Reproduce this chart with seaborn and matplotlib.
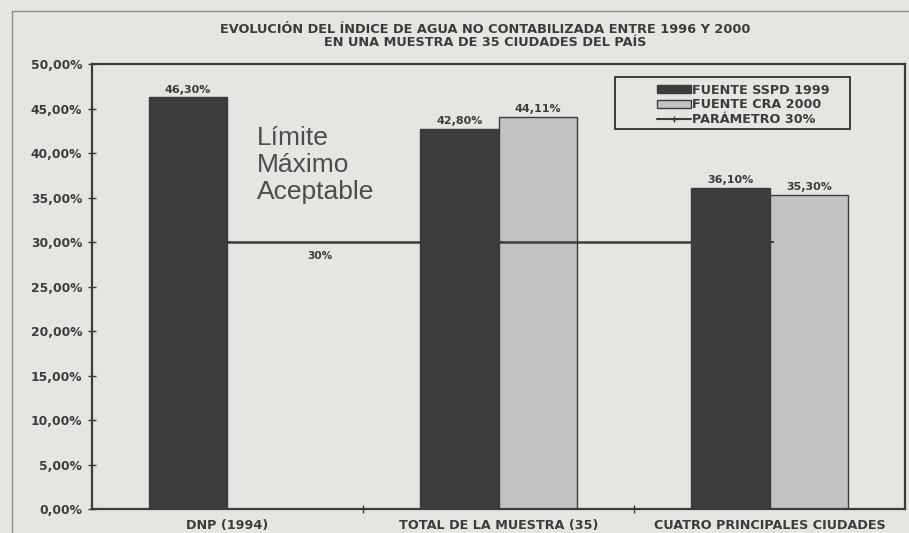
import matplotlib
matplotlib.use("Agg")
import matplotlib.pyplot as plt
from matplotlib.patches import Patch, Rectangle
from matplotlib.lines import Line2D
import seaborn as sns
import pandas as pd
import numpy as np

# Index of non-revenue water by source
categorias = ["DNP (1994)", "TOTAL DE LA MUESTRA (35)", "CUATRO PRINCIPALES CIUDADES"]
sspd_1999 = [46.30, 42.80, 36.10]
cra_2000 = [np.nan, 44.11, 35.30]
parametro = [30, 30, 30]
series = ["FUENTE SSPD 1999", "FUENTE CRA 2000"]
yticks = [0, 5, 10, 15, 20, 25, 30, 35, 40, 45, 50]

titulo = ("EVOLUCIÓN DEL ÍNDICE DE AGUA NO CONTABILIZADA ENTRE 1996 Y 2000\n"
          "EN UNA MUESTRA DE 35 CIUDADES DEL PAÍS")

df = pd.DataFrame({
    "categoria": categorias * 2,
    "valor": sspd_1999 + cra_2000,
    "fuente": [series[0]] * 3 + [series[1]] * 3,
})

sns.set_theme(style="white")
plt.rcParams["font.family"] = ["DejaVu Sans"]

paper = "#e5e5e2"
ink = "#3c3c3c"
dark = "#3d3d3d"
light = "#c2c2c0"
small = dict(fontweight="bold", color=ink)

fig = plt.figure(figsize=(9.09, 5.33), dpi=100, facecolor=paper)
ax = fig.add_axes([0.101, 0.045, 0.895, 0.834])
ax.set_facecolor(paper)

sns.barplot(data=df, x="categoria", y="valor", hue="fuente",
            palette=[dark, light], width=0.58, edgecolor=ink, linewidth=1.0,
            saturation=1, ax=ax, legend=False)

# 30% reference line across category centres
sns.pointplot(x=categorias, y=parametro, color=ink, markers="+",
              markersize=6, linewidth=1.8, ax=ax, zorder=5)

# value labels above each bar
for cont in ax.containers:
    labels = []
    for v in cont.datavalues:
        labels.append("" if np.isnan(v) else f"{v:.2f}%".replace(".", ","))
    ax.bar_label(cont, labels=labels, padding=2, fontsize=8, **small)

ax.text(0.34, 28.5, "30%", fontsize=7.6, ha="center", va="center", **small)
ax.text(0.11, 43.1, "Límite\nMáximo\nAceptable", fontsize=19,
        family="Liberation Sans", color="#4d4d4d",
        ha="left", va="top", linespacing=1.17)

ax.set_ylim(0, 50)
ax.set_xlim(-0.5, 2.5)
ax.set_yticks(yticks)
ax.set_yticklabels([f"{t:.2f}%".replace(".", ",") for t in yticks],
                   fontsize=8.8, **small)
ax.set_xticks(range(3))
ax.set_xticklabels(categorias, fontsize=9.2, **small)
ax.set_xticks([0.5, 1.5], minor=True)
ax.tick_params(axis="y", length=6, width=1, color=ink, pad=4, left=True,
               direction="inout")
ax.tick_params(axis="x", which="major", length=0, pad=7)
ax.tick_params(axis="x", which="minor", length=6, width=1, color=ink,
               bottom=True, direction="inout")
ax.set_xlabel("")
ax.set_ylabel("")
for s in ax.spines.values():
    s.set_visible(True)
    s.set_color(ink)
    s.set_linewidth(1.6)

# legend: entries without frame, boxed by a separate rectangle
handles = [
    Patch(facecolor=dark, edgecolor=ink, label="FUENTE SSPD 1999"),
    Patch(facecolor=light, edgecolor=ink, label="FUENTE CRA 2000"),
    Line2D([0], [0], color=ink, marker="+", markersize=5, lw=1.5,
           label="PARÁMETRO 30%"),
]
leg = ax.legend(handles=handles, loc="upper left",
                bbox_to_anchor=(0.692, 0.962), frameon=False,
                prop={"size": 9.2, "weight": "bold"}, handlelength=2.6,
                handleheight=0.6, labelspacing=0.12, borderpad=0.2,
                borderaxespad=0, handletextpad=0.1)
for t in leg.get_texts():
    t.set_color(ink)
ax.add_patch(Rectangle((0.643, 0.855), 0.289, 0.117, transform=ax.transAxes,
                       fill=False, edgecolor=ink, lw=1.4, zorder=6))

fig.text(0.534, 0.932, titulo, ha="center", va="center", fontsize=9.3,
         fontweight="bold", color=ink, linespacing=1.0)

# outer frame of the figure
fig.add_artist(Line2D([0.013, 0.013], [0.0, 0.98], color="#8a8a8a", lw=1.0))
fig.add_artist(Line2D([0.013, 1.0], [0.98, 0.98], color="#8a8a8a", lw=1.0))

fig.savefig("out.png", dpi=100, facecolor=paper)
